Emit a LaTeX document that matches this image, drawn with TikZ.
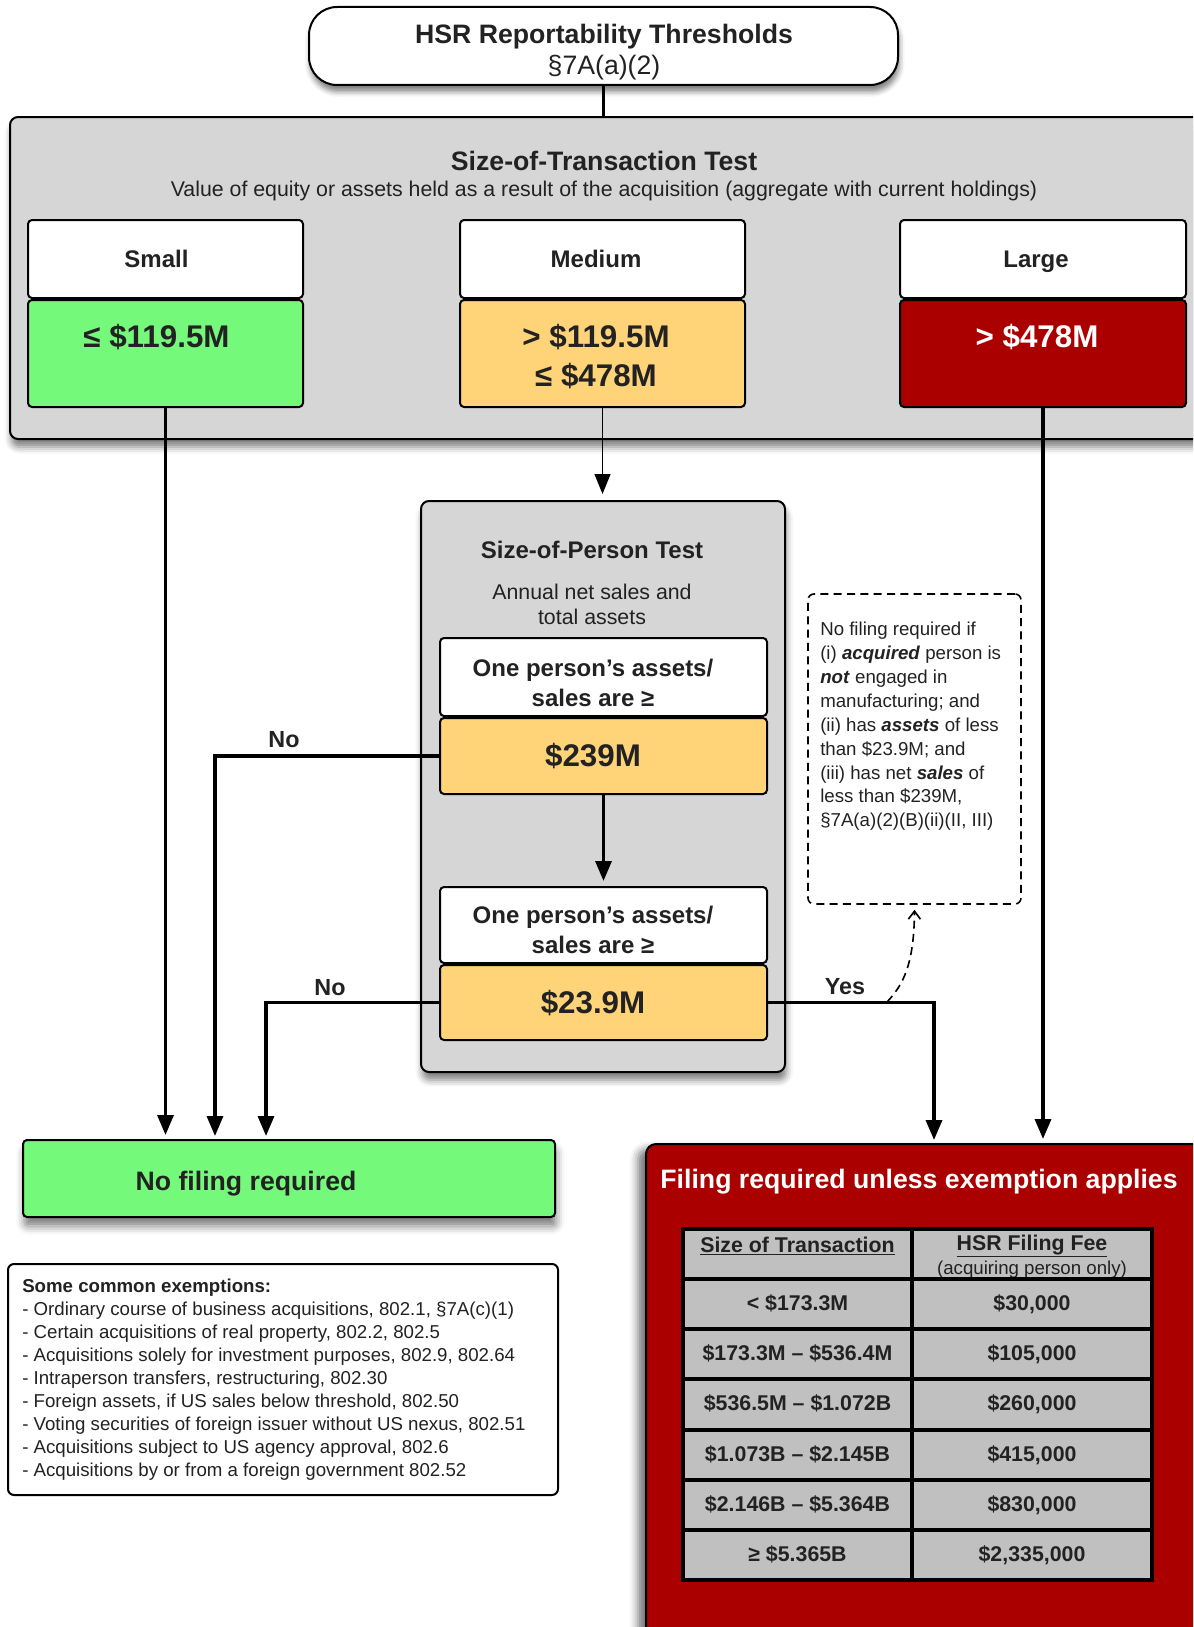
\documentclass[tikz,border=0pt]{standalone}
\usepackage{fontspec}
\setmainfont{Liberation Sans}
\usetikzlibrary{arrows.meta,shadows.blur}
\newdimen\pu \pu=0.75pt
\definecolor{boxgray}{HTML}{D6D6D6}
\definecolor{okgreen}{HTML}{74F97A}
\definecolor{midyellow}{HTML}{FFD479}
\definecolor{bigred}{HTML}{AA0000}
\definecolor{cellgray}{HTML}{C0C0C0}
\definecolor{ink}{HTML}{222222}
\newcommand\fs[2]{\fontsize{#1}{#2}\selectfont}
\begin{document}
\begin{tikzpicture}[x=0.75pt,y=-0.75pt,
  every node/.style={text=ink},
  rect/.style args={#1/#2/#3/#4}{at={({(#1+#3)/2},{(#2+#4)/2})},
      minimum width={(#3-#1)*0.75pt}, minimum height={(#4-#2)*0.75pt}},
  boxbase/.style={draw=black, line width=1.5pt, rounded corners=4\pu, inner sep=0pt, align=center},
  panel/.style={boxbase, fill=boxgray, rounded corners=8\pu,
     blur shadow={shadow xshift=1pt, shadow yshift=-6pt, shadow blur radius=5pt, shadow opacity=50}},
  headbox/.style={boxbase, fill=white},
  htext/.style={font=\bfseries\fs{18}{22}, align=center, inner sep=0pt},
  vtext/.style={font=\bfseries\fs{23.5}{29}, align=center, inner sep=0pt},
  ptext/.style={font=\bfseries\fs{18}{22.5}, align=center, inner sep=0pt},
  conn/.style={draw=black, line width=2.5pt},
  arrowconn/.style={conn, -{Triangle[length=15pt,width=12pt]}},
  thinarrow/.style={draw=black, line width=0.8pt, -{Triangle[length=15pt,width=12pt]}},
  lbl/.style={font=\bfseries\fs{17.5}{20}},
  cell/.style={draw=black, line width=3pt, fill=cellgray, inner sep=0pt, font=\bfseries\fs{16}{19},
      text height=0.95em, text depth=0.05em},
]
\useasboundingbox (0,0) rectangle (1193,1627);
\clip (0,0) rectangle (1193,1627);

% title
\node[boxbase, fill=white, rounded corners=28\pu, rect=309/7/898/85,
      blur shadow={shadow xshift=1pt, shadow yshift=-5pt, shadow blur radius=4pt, shadow opacity=50}] (title) {};
\node[font=\fs{20}{23.5}, align=center, inner sep=0pt] (titlet) at (604,52) {\textbf{HSR Reportability Thresholds}\\§7A(a)(2)};

% size of transaction panel
\node[panel, rect=10/117/1215/439] (trans) {};
\node[font=\bfseries\fs{20}{24}] (transt) at (604,161) {Size-of-Transaction Test};
\node[font=\fs{16}{19}] (transs) at (604,191) {Value of equity or assets held as a result of the acquisition (aggregate with current holdings)};

\node[headbox, rect=28/220/303/298] (smallh) {};
\node[htext] (smallht) at (156.5,259) {Small};
\node[boxbase, fill=okgreen, rect=28/300/303/407] (smallv) {};
\node[vtext] (smallvt) at (156.5,337) {≤ \$119.5M};
\node[headbox, rect=460/220/745/298] (medh) {};
\node[htext] (medht) at (596,259) {Medium};
\node[boxbase, fill=midyellow, rect=460/300/745/407] (medv) {};
\node[vtext] (medvt) at (596,356.5) {> \$119.5M\\≤ \$478M};
\node[headbox, rect=900/220/1186/298] (largeh) {};
\node[htext] (largeht) at (1036,262) {Large};
\node[boxbase, fill=bigred, rect=900/300/1186/407] (largev) {};
\node[vtext, text=white] (largevt) at (1037,337) {> \$478M};

% size of person panel
\node[panel, rect=421/501/785/1072] (person) {};
\node[font=\bfseries\fs{18}{22}] (persont) at (592,550) {Size-of-Person Test};
\node[font=\fs{16}{18.75}, align=center] (persons) at (592,604) {Annual net sales and\\total assets};
\node[headbox, rect=440/638/767/716] (ph1) {};
\node[ptext] (ph1t) at (593,683) {One person’s assets/\\sales are ≥};
\node[boxbase, fill=midyellow, rect=440/718/767/794] (pv1) {};
\node[vtext] (pv1t) at (593,756) {\$239M};
\node[headbox, rect=440/887/767/963] (ph2) {};
\node[ptext] (ph2t) at (593,929.5) {One person’s assets/\\sales are ≥};
\node[boxbase, fill=midyellow, rect=440/965/767/1040] (pv2) {};
\node[vtext] (pv2t) at (593,1003) {\$23.9M};

% note
\node[draw=black, dashed, dash pattern=on 6pt off 4pt, line width=1.2pt, rounded corners=6\pu,
      fill=white, inner sep=0pt, rect=808/594/1021/904] (note) {};
\node[anchor=north west, align=left, inner sep=0pt, font=\fs{14}{17.9}] (notet) at (820,622)
 {No filing required if\\
  (i) \textbf{\textit{acquired}} person is\\
  \textbf{\textit{not}} engaged in\\
  manufacturing; and\\
  (ii) has \textbf{\textit{assets}} of less\\
  than \$23.9M; and\\
  (iii) has net \textbf{\textit{sales}} of\\
  less than \$239M,\\
  §7A(a)(2)(B)(ii)(II, III)};

% outcome boxes
\node[boxbase, fill=okgreen, rect=23/1140/555/1217,
      blur shadow={shadow xshift=1pt, shadow yshift=-7pt, shadow blur radius=6pt, shadow opacity=50}] (nofile) {};
\node[font=\bfseries\fs{20}{24}] (nofilet) at (246,1184) {No filing required};

\node[boxbase, fill=white, rounded corners=6\pu, rect=8/1264/558/1495] (exempt) {};
\node[anchor=north west, align=left, inner sep=0pt, font=\fs{14}{17.25}] (exemptt) at (22,1279)
 {\textbf{Some common exemptions:}\\
  - Ordinary course of business acquisitions, 802.1, §7A(c)(1)\\
  - Certain acquisitions of real property, 802.2, 802.5\\
  - Acquisitions solely for investment purposes, 802.9, 802.64\\
  - Intraperson transfers, restructuring, 802.30\\
  - Foreign assets, if US sales below threshold, 802.50\\
  - Voting securities of foreign issuer without US nexus, 802.51\\
  - Acquisitions subject to US agency approval, 802.6\\
  - Acquisitions by or from a foreign government 802.52};

\node[boxbase, fill=bigred, rounded corners=10\pu, rect=646/1144/1230/1660,
      blur shadow={shadow xshift=-6pt, shadow yshift=-4pt, shadow blur radius=6pt, shadow opacity=55}] (filing) {};
\node[font=\bfseries\fs{20}{24}, text=white] (filingt) at (919,1182) {Filing required unless exemption applies};

% fee table
\node[cell, rect=683/1229/912/1279] (t0a) {};
\node[cell, rect=912/1229/1152/1279] (t0b) {};
\node[font=\bfseries\fs{16}{19}] (t0at) at (797.5,1246) {\underline{Size of Transaction}};
\node[font=\bfseries\fs{16}{19}] (t0bt) at (1032,1246) {\underline{HSR Filing Fee}};
\node[font=\fs{14}{17}] (t0bs) at (1032,1270) {(acquiring person only)};
\node[cell, rect=683/1279/912/1329] (t1a) {< \$173.3M};
\node[cell, rect=912/1279/1152/1329] (t1b) {\$30,000};
\node[cell, rect=683/1329/912/1379] (t2a) {\$173.3M – \$536.4M};
\node[cell, rect=912/1329/1152/1379] (t2b) {\$105,000};
\node[cell, rect=683/1379/912/1430] (t3a) {\$536.5M – \$1.072B};
\node[cell, rect=912/1379/1152/1430] (t3b) {\$260,000};
\node[cell, rect=683/1430/912/1480] (t4a) {\$1.073B – \$2.145B};
\node[cell, rect=912/1430/1152/1480] (t4b) {\$415,000};
\node[cell, rect=683/1480/912/1530] (t5a) {\$2.146B – \$5.364B};
\node[cell, rect=912/1480/1152/1530] (t5b) {\$830,000};
\node[cell, rect=683/1530/912/1580] (t6a) {≥ \$5.365B};
\node[cell, rect=912/1530/1152/1580] (t6b) {\$2,335,000};

% connectors
\draw[conn] (title.south) -- (title.south |- trans.north);
\draw[arrowconn] (smallv.south) -- ([yshift=4\pu]smallv.south |- nofile.north);
\draw[thinarrow] (medv.south) -- ([yshift=6\pu]medv.south |- person.north);
\draw[arrowconn] (largev.south) -- ([yshift=4\pu]largev.south |- filing.north);
\draw[arrowconn] (pv1.south) -- ([yshift=5\pu]ph2.north);
\coordinate (no1) at (215,1136);
\coordinate (no2) at (266,1136);
\coordinate (yes) at (934,1140);
\draw[arrowconn] (pv1.west) -| (no1);
\draw[arrowconn] (pv2.west) -| (no2);
\draw[arrowconn] (pv2.east) -| (yes);
\node[lbl] (nolbl1) at (284,740) {No};
\node[lbl] (nolbl2) at (330,988) {No};
\node[lbl] (yeslbl) at (845,987) {Yes};
\coordinate (dstart) at (887,1002);
\draw[dashed, dash pattern=on 6pt off 4pt, line width=1.2pt, -{Straight Barb[length=6pt,width=9pt]}]
  (dstart) .. controls (903,985) and (914,965) .. ([yshift=-5\pu]note.south);
\end{tikzpicture}
\end{document}
